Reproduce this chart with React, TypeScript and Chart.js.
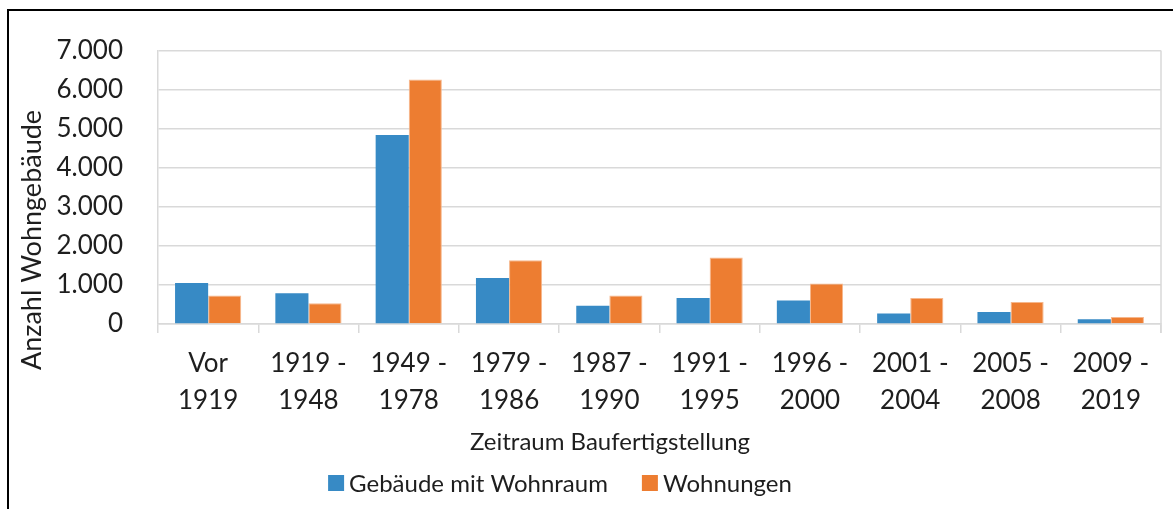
import React, { useEffect, useRef } from 'react';
import { Chart, registerables } from 'chart.js';

Chart.register(...registerables);

const categories: string[][] = [
  ['Vor', '1919'],
  ['1919 -', '1948'],
  ['1949 -', '1978'],
  ['1979 -', '1986'],
  ['1987 -', '1990'],
  ['1991 -', '1995'],
  ['1996 -', '2000'],
  ['2001 -', '2004'],
  ['2005 -', '2008'],
  ['2009 -', '2019'],
];
const gebaeudeMitWohnraum = [1050, 790, 4840, 1180, 470, 665, 600, 270, 310, 120];
const wohnungen = [730, 530, 6260, 1630, 730, 1700, 1040, 665, 565, 180];
const seriesNames = ['Gebäude mit Wohnraum', 'Wohnungen'];
const yTickValues = [0, 1000, 2000, 3000, 4000, 5000, 6000, 7000];
const yAxisTitle = 'Anzahl Wohngebäude';
const xAxisTitle = 'Zeitraum Baufertigstellung';

const FONT = 'Lato, "Open Sans", sans-serif';
const FS = 24;
const TICK_FS = 26;
const TEXT = '#1e1e1e';
const GRID = '#D9D9D9';
const BLUE = '#378AC5';
const ORANGE = '#ED7D31';

const W = 1173;
const H = 509;
const PLOT_LEFT = 158;
const PLOT_RIGHT = 1161;
const PLOT_TOP = 47;
const PLOT_BOTTOM = 324;

function fmt(v: number): string {
  if (v >= 1000) {
    const th = Math.floor(v / 1000);
    const rest = v % 1000;
    return `${th}.${String(rest).padStart(3, '0')}`;
  }
  return String(v);
}

const decorPlugin = {
  id: 'decor',
  afterDraw(chart: any) {
    const { ctx, chartArea } = chart;
    ctx.save();
    // right border of plot
    ctx.strokeStyle = GRID;
    ctx.lineWidth = 1.5;
    ctx.beginPath();
    ctx.moveTo(chartArea.right, chartArea.top);
    ctx.lineTo(chartArea.right, chartArea.bottom + 9);
    ctx.stroke();

    ctx.fillStyle = TEXT;
    ctx.textBaseline = 'middle';
    ctx.textAlign = 'center';
    // y title
    ctx.save();
    ctx.font = `27px ${FONT}`;
    ctx.translate(32, 240);
    ctx.rotate(-Math.PI / 2);
    ctx.fillText(yAxisTitle, 0, 0);
    ctx.restore();
    ctx.font = `${FS}px ${FONT}`;
    // x title
    ctx.fillText(xAxisTitle, 610, 442);

    // legend
    const ds = chart.data.datasets;
    const box = 16;
    const gapText = 5;
    const gapItem = 34;
    const widths = ds.map((d: any) => ctx.measureText(d.label).width);
    let total = 0;
    widths.forEach((w: number, i: number) => {
      total += box + gapText + w + (i < widths.length - 1 ? gapItem : 0);
    });
    let x = 560 - total / 2;
    const cy = 483;
    ctx.textAlign = 'left';
    ds.forEach((d: any, i: number) => {
      ctx.fillStyle = d.backgroundColor;
      ctx.fillRect(x, cy - box / 2, box, box);
      x += box + gapText;
      ctx.fillStyle = TEXT;
      ctx.fillText(d.label, x, cy + 1);
      x += widths[i] + gapItem;
    });
    ctx.restore();
  },
};

export default function App() {
  const ref = useRef<HTMLCanvasElement | null>(null);

  useEffect(() => {
    if (!ref.current) return;
    const chart = new Chart(ref.current, {
      type: 'bar',
      data: {
        labels: categories,
        datasets: [
          {
            label: seriesNames[0],
            data: gebaeudeMitWohnraum,
            backgroundColor: BLUE,
            borderColor: '#4A95CB',
            borderWidth: 0,
            categoryPercentage: 0.66,
            barPercentage: 1,
          },
          {
            label: seriesNames[1],
            data: wohnungen,
            backgroundColor: ORANGE,
            borderColor: '#F6B78C',
            borderWidth: 1,
            categoryPercentage: 0.66,
            barPercentage: 1,
          },
        ],
      },
      options: {
        responsive: false,
        animation: false,
        devicePixelRatio: 1,
        layout: { padding: { left: 0, right: W - PLOT_RIGHT, top: PLOT_TOP, bottom: 0 } },
        plugins: {
          legend: { display: false },
          tooltip: { enabled: false },
          title: { display: false },
        },
        scales: {
          x: {
            grid: {
              drawOnChartArea: false,
              color: GRID,
              lineWidth: 1.5,
              tickLength: 9,
              offset: true,
            },
            border: { display: true, color: GRID, width: 1.5 },
            ticks: {
              color: TEXT,
              font: { family: FONT, size: TICK_FS, lineHeight: 37 / TICK_FS },
              maxRotation: 0,
              autoSkip: false,
              padding: 12,
            },
            afterFit: (scale: any) => {
              scale.height = H - PLOT_BOTTOM;
            },
          },
          y: {
            min: 0,
            max: 7000,
            afterBuildTicks: (scale: any) => {
              scale.ticks = yTickValues.map((v) => ({ value: v }));
            },
            grid: { color: GRID, lineWidth: 1.5, drawTicks: false },
            border: { display: true, color: GRID, width: 1.5 },
            ticks: {
              color: TEXT,
              font: { family: FONT, size: TICK_FS },
              padding: 35,
              callback: (v: any) => fmt(Number(v)),
            },
            afterFit: (scale: any) => {
              scale.width = PLOT_LEFT;
            },
          },
        },
      },
      plugins: [decorPlugin],
    });
    return () => chart.destroy();
  }, []);

  return (
    <div
      style={{
        position: 'fixed',
        left: 0,
        top: 0,
        width: W,
        height: H,
        overflow: 'hidden',
        background: '#ffffff',
      }}
    >
      <div
        style={{
          position: 'absolute',
          left: 7,
          top: 9,
          width: 1300,
          height: 600,
          border: '2.5px solid #000000',
        }}
      />
      <canvas
        ref={ref}
        width={W}
        height={H}
        style={{ position: 'absolute', left: 0, top: 0, width: W, height: H }}
      />
    </div>
  );
}
